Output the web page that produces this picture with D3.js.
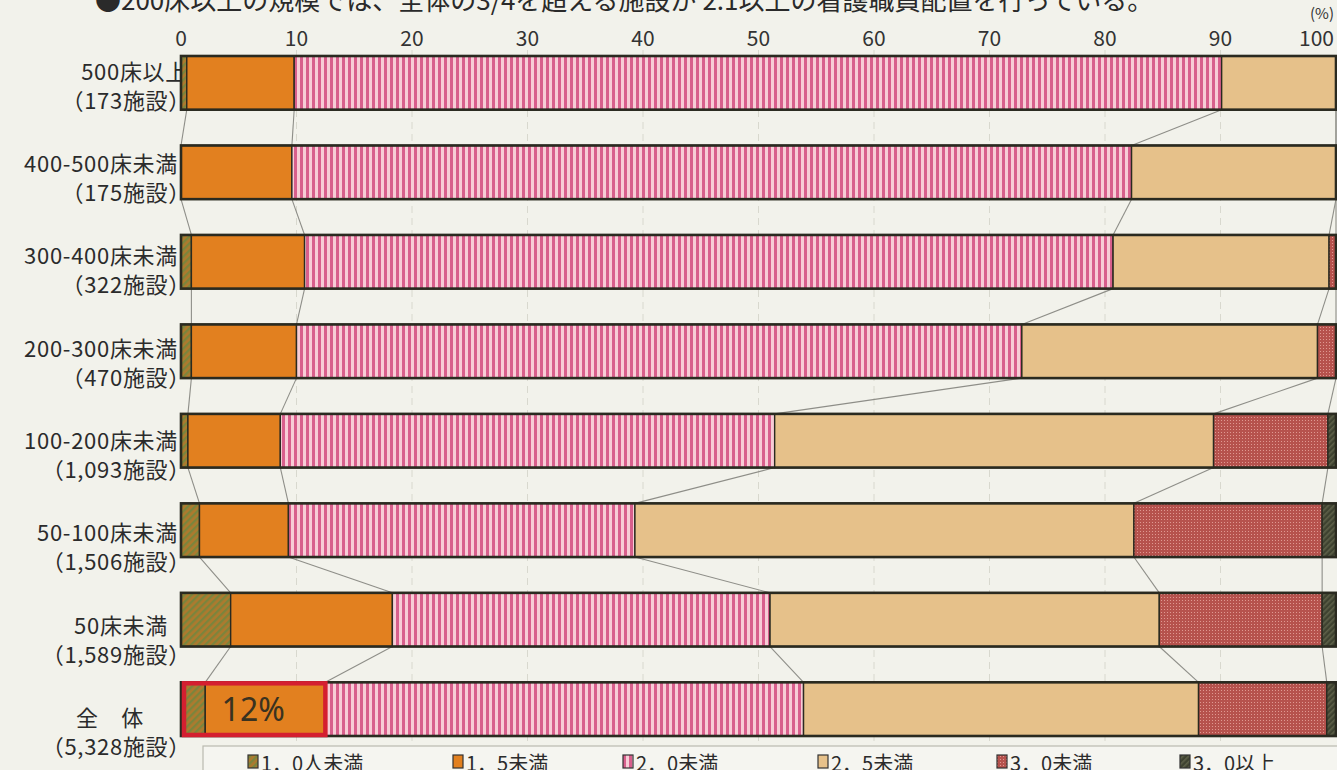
<!DOCTYPE html>
<html><head><meta charset="utf-8">
<script src="https://cdn.jsdelivr.net/npm/d3@7"></script>
<style>
html,body{margin:0;padding:0;background:#f2f2eb;overflow:hidden;}
svg{display:block;font-family:"Noto Sans CJK JP","Noto Sans",sans-serif;}
</style></head>
<body>
<svg id="chart" width="1337" height="770"></svg>
<script>
// ---- data ----
const titleText = "●200床以上の規模では、全体の3/4を超える施設が 2:1以上の看護職員配置を行っている。";
const categories = ["500床以上","400-500床未満","300-400床未満","200-300床未満","100-200床未満","50-100床未満","50床未満","全　体"];
const facilityCounts = ["（173施設）","（175施設）","（322施設）","（470施設）","（1,093施設）","（1,506施設）","（1,589施設）","（5,328施設）"];
const seriesNames = ["1．0人未満","1．5未満","2．0未満","2．5未満","3．0未満","3．0以上"];
const under10 = [0.5, 0.0, 0.9, 0.9, 0.6, 1.6, 4.3, 2.1];
const under15 = [9.3, 9.6, 9.8, 9.1, 8.0, 7.7, 14.0, 10.4];
const under20 = [80.3, 72.7, 70.0, 62.8, 42.8, 30.0, 32.7, 41.4];
const under25 = [9.9, 17.7, 18.7, 25.6, 38.0, 43.2, 33.7, 34.2];
const under30 = [0.0, 0.0, 0.6, 1.6, 9.9, 16.3, 14.1, 11.1];
const over30  = [0.0, 0.0, 0.0, 0.0, 0.7, 1.2, 1.2, 0.8];
const tickValues = [0,10,20,30,40,50,60,70,80,90,100];
const highlightLabel = "12%";

// ---- build ----
const seriesArrays = [under10, under15, under20, under25, under30, over30];
const keys = seriesNames;
const rows = categories.map((c,i)=>{
  const o = {cat:c};
  keys.forEach((k,j)=>o[k]=seriesArrays[j][i]);
  return o;
});
const stacked = d3.stack().keys(keys)(rows);

const svg = d3.select("#chart");
const W = 1337, H = 770;
svg.append("rect").attr("width",W).attr("height",H).attr("fill","#f2f2eb");

const x = d3.scaleLinear().domain([0,100]).range([181,1336]);
const y = d3.scaleBand().domain(categories).range([56,736]).paddingInner(0.4).paddingOuter(0);
const yLab = d3.scalePoint().domain(categories).range([72,718]);

// patterns
const defs = svg.append("defs");
function pat(id,w,h,rot,draw){
  const p = defs.append("pattern").attr("id",id).attr("patternUnits","userSpaceOnUse")
    .attr("width",w).attr("height",h);
  if(rot) p.attr("patternTransform","rotate("+rot+")");
  draw(p);
}
pat("p0",5,5,45,p=>{p.append("rect").attr("width",5).attr("height",5).attr("fill","#ad7a2e");
  p.append("rect").attr("width",2.3).attr("height",5).attr("fill","#7b853c");});
pat("p1",4,4,0,p=>{p.append("rect").attr("width",4).attr("height",4).attr("fill","#e2801f");});
pat("p2",6,6,0,p=>{p.append("rect").attr("width",6).attr("height",6).attr("fill","#f7cdd6");
  p.append("rect").attr("width",3).attr("height",6).attr("fill","#d85f8c");});
pat("p3",4,4,0,p=>{p.append("rect").attr("width",4).attr("height",4).attr("fill","#e6c18a");});
pat("p4",3,3,0,p=>{p.append("rect").attr("width",3).attr("height",3).attr("fill","#b6524d");
  p.append("rect").attr("width",0.9).attr("height",0.9).attr("fill","#eaa9a2");});
pat("p5",4,4,45,p=>{p.append("rect").attr("width",4).attr("height",4).attr("fill","#3e4230");
  p.append("rect").attr("width",1.6).attr("height",4).attr("fill","#5d6048");});
const fills = ["url(#p0)","url(#p1)","url(#p2)","url(#p3)","url(#p4)","url(#p5)"];

// title (cut at top)
svg.append("text").attr("x",95).attr("y",10).attr("font-size",26).attr("fill","#2a2a2a").text(titleText);

// gridlines
svg.append("g").selectAll("line").data(tickValues.slice(1,-1)).join("line")
  .attr("x1",d=>x(d)).attr("x2",d=>x(d)).attr("y1",50).attr("y2",742)
  .attr("stroke","#d8d8ce").attr("stroke-width",1).attr("stroke-dasharray","7,5");

// top tick labels (from the x scale)
svg.append("g").selectAll("text").data(tickValues).join("text")
  .attr("x",d=>d===100?x(d)-2:x(d)).attr("y",46)
  .attr("text-anchor",d=>d===100?"end":"middle")
  .attr("font-size",21).attr("fill","#333").text(d=>d3.format("d")(d));
svg.append("text").attr("x",1334).attr("y",19).attr("text-anchor","end").attr("font-size",15).attr("fill","#333").text("(%)");

// row labels (drawn before bars)
const line1End = [188,178,178,178,178,178,168,144];
const gLab = svg.append("g").attr("font-size",22).attr("fill","#2b2b2b").attr("letter-spacing",0.7);
gLab.selectAll("text.l1").data(categories).join("text").attr("class","l1")
  .attr("x",(d,i)=>line1End[i]).attr("y",d=>yLab(d)).attr("dy","0.36em")
  .attr("text-anchor","end").text(d=>d);
gLab.selectAll("text.l2").data(facilityCounts).join("text").attr("class","l2")
  .attr("x",191).attr("y",(d,i)=>yLab(categories[i])+29).attr("dy","0.36em")
  .attr("text-anchor","end").text(d=>d);

// connectors
const conn = svg.append("g").attr("stroke","#8e8e88").attr("stroke-width",1.1).attr("fill","none");
for(let k=0;k<5;k++){
  for(let i=0;i<categories.length-1;i++){
    const a = stacked[k][i][1], b = stacked[k][i+1][1];
    conn.append("line").attr("x1",x(a)).attr("y1",y(categories[i])+y.bandwidth())
      .attr("x2",x(b)).attr("y2",y(categories[i+1]));
  }
}

// bars
const gBars = svg.append("g");
stacked.forEach((s,k)=>{
  gBars.append("g").selectAll("rect").data(s).join("rect")
    .attr("x",d=>x(d[0])).attr("width",d=>Math.max(0,x(d[1])-x(d[0])))
    .attr("y",(d,i)=>y(categories[i])).attr("height",y.bandwidth())
    .attr("fill",fills[k]).attr("stroke",d=>(d[1]-d[0])>0?"#2a2a20":"none").attr("stroke-width",1.4);
});
gBars.append("g").selectAll("rect").data(categories).join("rect")
  .attr("x",x(0)).attr("width",x(100)-x(0)).attr("y",d=>y(d)).attr("height",y.bandwidth())
  .attr("fill","none").attr("stroke","#2a2a20").attr("stroke-width",2.6);

// highlight box on 全体 (first two series)
const lastCat = categories[categories.length-1];
const hiEnd = stacked[1][categories.length-1][1];
svg.append("rect").attr("x",x(0)+3).attr("y",y(lastCat)+1).attr("width",x(hiEnd)-x(0)-3)
  .attr("height",y.bandwidth()-2).attr("fill","none").attr("stroke","#d41f30").attr("stroke-width",4.5);
svg.append("text").attr("x",(x(0)+x(hiEnd))/2).attr("y",y(lastCat)+y.bandwidth()/2).attr("dy","0.36em")
  .attr("text-anchor","middle").attr("font-size",32).attr("fill","#3a3220")
  .attr("font-family","'Noto Sans','Noto Sans CJK JP',sans-serif").text(highlightLabel);

// legend
const legendX = [248,453,623,818,997,1180];
svg.append("rect").attr("x",203).attr("y",746).attr("width",1200).attr("height",40)
  .attr("fill","#f5f5f0").attr("stroke","#b9b9b0").attr("stroke-width",1.2);
const lg = svg.append("g").selectAll("g").data(seriesNames).join("g")
  .attr("transform",(d,i)=>`translate(${legendX[i]},0)`);
lg.append("rect").attr("x",0).attr("y",755).attr("width",10).attr("height",13)
  .attr("fill",(d,i)=>fills[i]).attr("stroke","#333").attr("stroke-width",1.2);
lg.append("text").attr("x",13).attr("y",771).attr("font-size",20).attr("fill","#2b2b2b").text(d=>d);
</script>
</body></html>
